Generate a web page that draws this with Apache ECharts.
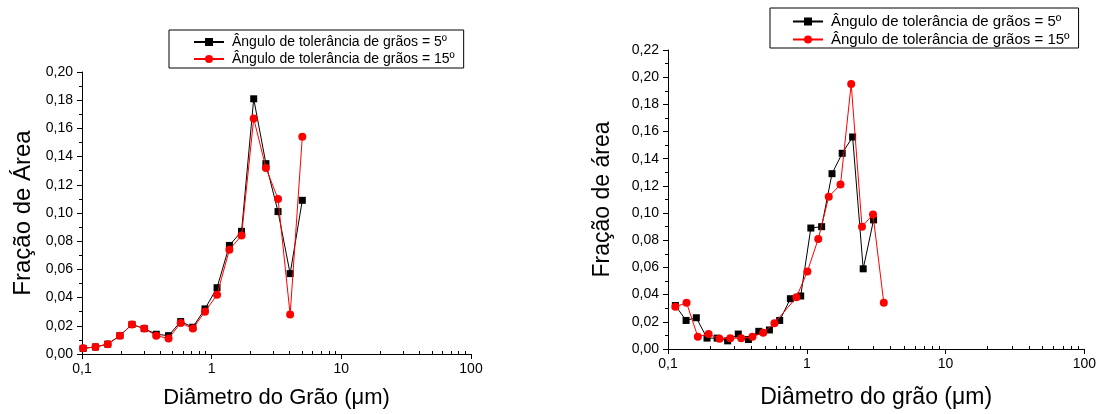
<!DOCTYPE html>
<html>
<head>
<meta charset="utf-8">
<script src="https://cdn.jsdelivr.net/npm/echarts@6/dist/echarts.min.js"></script>
<style>
html,body{margin:0;padding:0;background:#fff;}
#c{width:1099px;height:414px;}
</style>
</head>
<body>
<div id="c"></div>
<script>
// ---- Data ----
const name5 = 'Ângulo de tolerância de grãos = 5º';
const name15 = 'Ângulo de tolerância de grãos = 15º';

// Left chart
const leftX = [0.102,0.127,0.158,0.196,0.243,0.302,0.374,0.465,0.577,0.716,0.888,1.10,1.37,1.70,2.11,2.62,3.25,4.03,5.00];
const leftY5 = [0.004,0.005,0.007,0.013,0.021,0.018,0.014,0.013,0.023,0.019,0.032,0.047,0.077,0.087,0.181,0.135,0.101,0.057,0.109];
const leftY15 = [0.004,0.005,0.007,0.013,0.021,0.018,0.013,0.011,0.022,0.018,0.030,0.042,0.074,0.084,0.167,0.132,0.110,0.028,0.154];

// Right chart
const rightX5 = [0.113,0.135,0.160,0.191,0.226,0.269,0.321,0.380,0.451,0.538,0.638,0.762,0.904,1.07,1.28,1.52,1.80,2.14,2.55,3.03];
const rightY5 = [0.032,0.021,0.023,0.008,0.008,0.006,0.011,0.007,0.013,0.014,0.021,0.037,0.039,0.089,0.090,0.129,0.144,0.156,0.059,0.095];
const rightX15 = [0.113,0.136,0.164,0.196,0.235,0.281,0.337,0.406,0.485,0.585,0.842,1.01,1.21,1.44,1.75,2.09,2.50,3.00,3.59];
const rightY15 = [0.031,0.034,0.009,0.011,0.0075,0.008,0.008,0.009,0.012,0.019,0.038,0.057,0.081,0.112,0.121,0.195,0.090,0.099,0.034];

// Tick values
const minorLogTicks = [0.2,0.3,0.4,0.5,0.6,0.7,0.8,0.9,2,3,4,5,6,7,8,9,20,30,40,50,60,70,80,90];

const leftTitles = {x: 'Diâmetro do Grão (μm)', y: 'Fração de Área'};
const rightTitles = {x: 'Diâmetro do grão (μm)', y: 'Fração de área'};

// ---- Build ----
const FONT = 'Liberation Sans, Arial, sans-serif';
const zip = (xs, ys) => xs.map((x, i) => [x, ys[i]]);
const fmtY = v => v.toFixed(2).replace('.', ',');
const fmtX = v => String(+(+v).toPrecision(3)).replace('.', ',');

function majorX(gridIndex, titleText, titleSize, gap) {
  return {
    type: 'log', logBase: 10, gridIndex, min: 0.1, max: 100, interval: 1,
    axisLine: {show: true, onZero: false, lineStyle: {color: '#000', width: 1}},
    axisTick: {show: true, inside: false, length: 5, lineStyle: {color: '#000', width: 1}},
    axisLabel: {color: '#000', fontFamily: FONT, fontSize: 14, margin: 8, formatter: fmtX},
    splitLine: {show: false}, minorTick: {show: false},
    name: titleText, nameLocation: 'middle', nameGap: gap,
    nameTextStyle: {color: '#000', fontFamily: FONT, fontSize: titleSize}
  };
}
function minorX(gridIndex) {
  return {
    type: 'log', logBase: 10, gridIndex, min: 0.1, max: 100, interval: 1,
    axisLine: {show: false},
    axisTick: {show: true, inside: false, length: 3, customValues: minorLogTicks, lineStyle: {color: '#000', width: 1}},
    axisLabel: {show: false}, splitLine: {show: false}
  };
}
function yAx(gridIndex, max, titleText, titleSize, gap) {
  return {
    type: 'value', gridIndex, min: 0, max, interval: 0.02,
    axisLine: {show: true, onZero: false, lineStyle: {color: '#000', width: 1}},
    axisTick: {show: true, inside: false, length: 5, lineStyle: {color: '#000', width: 1}},
    minorTick: {show: true, splitNumber: 2, length: 3, lineStyle: {color: '#000', width: 1}},
    axisLabel: {color: '#000', fontFamily: FONT, fontSize: 14, margin: 9, formatter: fmtY},
    splitLine: {show: false}, minorSplitLine: {show: false},
    name: titleText, nameLocation: 'middle', nameGap: gap,
    nameTextStyle: {color: '#000', fontFamily: FONT, fontSize: titleSize}
  };
}
function ser(name, data, xi, yi, black) {
  return {
    name, type: 'line', data, xAxisIndex: xi, yAxisIndex: yi,
    symbol: black ? 'rect' : 'circle', symbolSize: black ? 7 : 8,
    showSymbol: true, animation: false,
    lineStyle: {color: black ? '#000' : '#ff0000', width: 1},
    itemStyle: {color: black ? '#000' : '#ff0000'},
    z: black ? 2 : 3
  };
}
function legend(left, top, fontSize, gap, padding) {
  return {
    orient: 'vertical', left, top, itemWidth: 30, itemHeight: 10, itemGap: gap,
    padding, borderColor: '#000', borderWidth: 1, backgroundColor: '#fff',
    selectedMode: false,
    textStyle: {color: '#000', fontFamily: FONT, fontSize, padding: [0, 0, 0, 3]},
    data: [name5, name15]
  };
}

const chart = echarts.init(document.getElementById('c'), null, {renderer: 'canvas'});
chart.setOption({
  backgroundColor: '#fff',
  animation: false,
  legend: [
    legend(169, 30, 14, 3, [5, 9, 2, 24]),
    legend(770, 8, 15, 3, [6, 9, 1, 22])
  ],
  grid: [
    {left: 82, top: 72, width: 389, height: 285, containLabel: false},
    {left: 668, top: 50, width: 418, height: 302, containLabel: false}
  ],
  xAxis: [
    majorX(0, leftTitles.x, 22, 33), minorX(0),
    majorX(1, rightTitles.x, 23, 37), minorX(1)
  ],
  yAxis: [
    yAx(0, 0.20, leftTitles.y, 24, 47),
    yAx(1, 0.22, rightTitles.y, 23, 54)
  ],
  series: [
    ser(name5, zip(leftX, leftY5), 0, 0, true),
    ser(name15, zip(leftX, leftY15), 0, 0, false),
    ser(name5, zip(rightX5, rightY5), 2, 1, true),
    ser(name15, zip(rightX15, rightY15), 2, 1, false)
  ]
});
</script>
</body>
</html>
